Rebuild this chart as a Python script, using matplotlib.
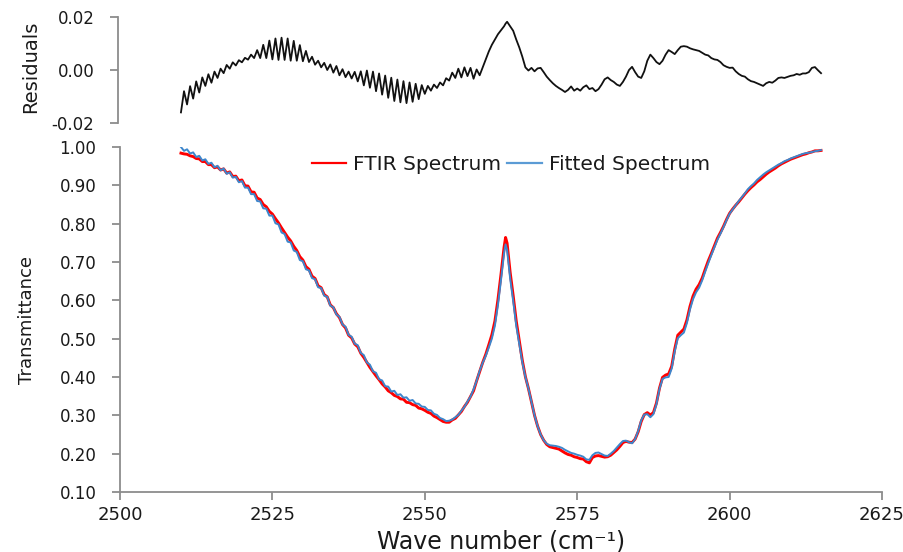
import matplotlib
matplotlib.use("Agg")
import matplotlib.pyplot as plt
from matplotlib.lines import Line2D

# ---------------- data ----------------
wavenumber = [
    2510.0, 2510.5, 2511.0, 2511.5, 2512.0, 2512.5, 2513.0, 2513.5, 2514.0, 2514.5,
    2515.0, 2515.5, 2516.0, 2516.5, 2517.0, 2517.5, 2518.0, 2518.5, 2519.0, 2519.5,
    2520.0, 2520.5, 2521.0, 2521.5, 2522.0, 2522.5, 2523.0, 2523.5, 2524.0, 2524.5,
    2525.0, 2525.5, 2526.0, 2526.5, 2527.0, 2527.5, 2528.0, 2528.5, 2529.0, 2529.5,
    2530.0, 2530.5, 2531.0, 2531.5, 2532.0, 2532.5, 2533.0, 2533.5, 2534.0, 2534.5,
    2535.0, 2535.5, 2536.0, 2536.5, 2537.0, 2537.5, 2538.0, 2538.5, 2539.0, 2539.5,
    2540.0, 2540.5, 2541.0, 2541.5, 2542.0, 2542.5, 2543.0, 2543.5, 2544.0, 2544.5,
    2545.0, 2545.5, 2546.0, 2546.5, 2547.0, 2547.5, 2548.0, 2548.5, 2549.0, 2549.5,
    2550.0, 2550.5, 2551.0, 2551.5, 2552.0,
    2552.5, 2553.0, 2553.5, 2554.0, 2554.5, 2555.0, 2555.5, 2556.0, 2556.5, 2557.0,
    2557.5, 2558.0, 2558.5, 2559.0, 2559.5, 2560.0, 2560.5, 2561.0, 2561.5, 2562.0,
    2562.5, 2563.0,
    2563.25,
    2563.5, 2564.0, 2564.5, 2565.0, 2565.5, 2566.0, 2566.5, 2567.0, 2567.5, 2568.0,
    2568.5, 2569.0, 2569.5, 2570.0, 2570.5, 2571.0, 2571.5, 2572.0, 2572.5, 2573.0,
    2573.5, 2574.0, 2574.5, 2575.0, 2575.5, 2576.0, 2576.5, 2577.0, 2577.5, 2578.0,
    2578.5, 2579.0, 2579.5, 2580.0, 2580.5, 2581.0, 2581.5, 2582.0, 2582.5, 2583.0,
    2583.5, 2584.0, 2584.5, 2585.0, 2585.5, 2586.0, 2586.5, 2587.0, 2587.5, 2588.0,
    2588.5, 2589.0, 2589.5, 2590.0, 2590.5, 2591.0, 2591.5, 2592.0, 2592.5, 2593.0,
    2593.5, 2594.0, 2594.5, 2595.0, 2595.5, 2596.0, 2596.5, 2597.0, 2597.5, 2598.0,
    2598.5, 2599.0, 2599.5, 2600.0, 2600.5, 2601.0, 2601.5, 2602.0, 2602.5, 2603.0,
    2603.5, 2604.0, 2604.5, 2605.0, 2605.5, 2606.0, 2606.5, 2607.0, 2607.5, 2608.0,
    2608.5, 2609.0, 2609.5, 2610.0, 2610.5, 2611.0, 2611.5, 2612.0, 2612.5, 2613.0,
    2613.5, 2614.0, 2614.5, 2615.0,
]

ftir_spectrum = [
    0.984, 0.982, 0.981, 0.977, 0.975, 0.970, 0.969, 0.962, 0.962, 0.954,
    0.954, 0.946, 0.948, 0.940, 0.943, 0.932, 0.935, 0.923, 0.924, 0.912,
    0.914, 0.899, 0.898, 0.883, 0.882, 0.867, 0.863, 0.850, 0.844, 0.832,
    0.825, 0.813, 0.802, 0.789, 0.777, 0.765, 0.755, 0.741, 0.730, 0.714,
    0.705, 0.688, 0.681, 0.663, 0.657, 0.638, 0.633, 0.615, 0.609, 0.588,
    0.581, 0.565, 0.555, 0.537, 0.528, 0.509, 0.502, 0.486, 0.479, 0.462,
    0.451, 0.438, 0.425, 0.414, 0.403, 0.393, 0.382, 0.374, 0.364, 0.359,
    0.352, 0.349, 0.343, 0.342, 0.334, 0.333, 0.328, 0.326, 0.319, 0.317,
    0.313, 0.308, 0.305, 0.298, 0.294,
    0.289, 0.284, 0.282, 0.282, 0.288, 0.292, 0.301, 0.310, 0.323, 0.334,
    0.349, 0.364, 0.390, 0.414, 0.438, 0.459, 0.484, 0.510, 0.546, 0.602,
    0.668, 0.738,
    0.764,
    0.749, 0.673, 0.612, 0.546, 0.494, 0.443, 0.401, 0.370, 0.335, 0.300,
    0.272, 0.250, 0.235, 0.224, 0.218, 0.216, 0.214, 0.212, 0.207, 0.202,
    0.198, 0.196, 0.192, 0.190, 0.187, 0.186, 0.179, 0.176, 0.190, 0.194,
    0.195, 0.193, 0.191, 0.192, 0.196, 0.203, 0.210, 0.219, 0.229, 0.232,
    0.230, 0.229, 0.238, 0.257, 0.284, 0.302, 0.307, 0.301, 0.307, 0.332,
    0.371, 0.399, 0.405, 0.408, 0.428, 0.473, 0.509, 0.517, 0.525, 0.549,
    0.584, 0.611, 0.629, 0.641, 0.658, 0.681, 0.703, 0.722, 0.742, 0.762,
    0.777, 0.793, 0.811, 0.827, 0.838, 0.848, 0.857, 0.867, 0.877, 0.886,
    0.894, 0.901, 0.909, 0.915, 0.922, 0.929, 0.935, 0.940, 0.945, 0.951,
    0.956, 0.960, 0.964, 0.968, 0.971, 0.974, 0.977, 0.980, 0.982, 0.985,
    0.987, 0.990, 0.990, 0.991,
]

fitted_spectrum = [
    1.000, 0.990, 0.994, 0.983, 0.986, 0.974, 0.977, 0.965, 0.968, 0.956,
    0.959, 0.947, 0.951, 0.939, 0.944, 0.930, 0.934, 0.920, 0.922, 0.908,
    0.911, 0.894, 0.894, 0.877, 0.877, 0.859, 0.858, 0.840, 0.839, 0.821,
    0.821, 0.801, 0.798, 0.777, 0.773, 0.753, 0.751, 0.730, 0.726, 0.705,
    0.702, 0.681, 0.678, 0.658, 0.655, 0.634, 0.632, 0.612, 0.609, 0.586,
    0.582, 0.563, 0.557, 0.537, 0.531, 0.510, 0.505, 0.487, 0.483, 0.463,
    0.457, 0.438, 0.432, 0.415, 0.411, 0.394, 0.391, 0.376, 0.375, 0.362,
    0.364, 0.353, 0.355, 0.346, 0.347, 0.338, 0.340, 0.331, 0.330, 0.323,
    0.322, 0.314, 0.313, 0.304, 0.301,
    0.293, 0.290, 0.285, 0.286, 0.289, 0.295, 0.301, 0.312, 0.322, 0.336,
    0.349, 0.368, 0.390, 0.416, 0.437, 0.455, 0.477, 0.500, 0.534, 0.588,
    0.653, 0.722,
    0.746,
    0.731, 0.657, 0.598, 0.534, 0.486, 0.438, 0.400, 0.370, 0.335, 0.300,
    0.272, 0.250, 0.235, 0.226, 0.222, 0.221, 0.220, 0.218, 0.215, 0.210,
    0.206, 0.202, 0.200, 0.197, 0.195, 0.192, 0.185, 0.184, 0.196, 0.202,
    0.203, 0.199, 0.195, 0.194, 0.200, 0.207, 0.216, 0.225, 0.233, 0.234,
    0.230, 0.227, 0.238, 0.259, 0.287, 0.302, 0.303, 0.295, 0.303, 0.329,
    0.369, 0.395, 0.399, 0.400, 0.422, 0.467, 0.501, 0.509, 0.516, 0.541,
    0.576, 0.603, 0.621, 0.633, 0.652, 0.675, 0.697, 0.718, 0.738, 0.758,
    0.774, 0.791, 0.809, 0.826, 0.837, 0.848, 0.859, 0.869, 0.879, 0.890,
    0.898, 0.905, 0.914, 0.921, 0.928, 0.934, 0.939, 0.944, 0.949, 0.954,
    0.958, 0.963, 0.966, 0.970, 0.973, 0.976, 0.979, 0.982, 0.984, 0.985,
    0.987, 0.989, 0.990, 0.992,
]

residuals = [
    -0.016, -0.008, -0.013, -0.0061, -0.0108, -0.0043, -0.0085, -0.0028, -0.006, -0.0016,
    -0.0048, -0.0006, -0.003, 0.0005, -0.0012, 0.0019, 0.0005, 0.0029, 0.0017, 0.0037,
    0.0029, 0.0046, 0.0039, 0.0058, 0.0045, 0.0075, 0.0045, 0.0095, 0.0045, 0.0111,
    0.004, 0.0119, 0.0038, 0.0122, 0.0038, 0.0119, 0.0035, 0.011, 0.0035, 0.0094,
    0.0033, 0.0072, 0.003, 0.005, 0.002, 0.0035, 0.001, 0.0027, 0.0, 0.0021,
    -0.001, 0.0015, -0.002, 0.0003, -0.0027, -0.0006, -0.0032, -0.0007, -0.0043, -0.0005,
    -0.0058, -0.0002, -0.0067, -0.0006, -0.008, -0.0013, -0.0093, -0.0021, -0.0105, -0.0029,
    -0.0117, -0.0036, -0.0122, -0.0042, -0.0125, -0.0047, -0.012, -0.0052, -0.011, -0.0057,
    -0.009, -0.006, -0.0078, -0.0055, -0.0068,
    -0.0047, -0.0058, -0.0031, -0.004, -0.001, -0.003, 0.0005, -0.0028, 0.001, -0.0023,
    0.0008, -0.0033, 0.0002, -0.002, 0.001, 0.004, 0.007, 0.0095, 0.0115, 0.0135,
    0.015, 0.0165,
    0.0175,
    0.0182, 0.0165, 0.0148, 0.0115, 0.0085, 0.005, 0.001, -0.0002, 0.0008, -0.0005,
    0.0006, 0.0008, -0.0008, -0.0025, -0.0038, -0.005, -0.006, -0.0068, -0.0075, -0.0083,
    -0.0075, -0.0062, -0.0078, -0.007, -0.0078, -0.0065, -0.0058, -0.0072, -0.0068, -0.008,
    -0.0072, -0.0055, -0.0035, -0.0028, -0.0038, -0.0045, -0.0055, -0.006, -0.0045, -0.0025,
    0.0, 0.0012, -0.0008, -0.0025, -0.003, -0.0005, 0.0035, 0.0058, 0.0045, 0.003,
    0.0022, 0.0035, 0.0058, 0.0075, 0.0068, 0.006, 0.0075, 0.0088, 0.009, 0.0088,
    0.0082, 0.0078, 0.0075, 0.0072, 0.0065, 0.0058, 0.0055, 0.0045, 0.004, 0.0038,
    0.003, 0.0018, 0.0012, 0.0008, 0.0009, -0.0005, -0.0015, -0.0022, -0.0025, -0.0035,
    -0.0042, -0.0045, -0.005, -0.0055, -0.006, -0.005, -0.0045, -0.0048, -0.004, -0.003,
    -0.0028, -0.003, -0.0026, -0.0022, -0.002, -0.0015, -0.0018, -0.0013, -0.0013, -0.0008,
    0.0008, 0.0011, -0.0001, -0.0012,
]

x_ticks = [2500, 2525, 2550, 2575, 2600, 2625]
t_ticks = [0.10, 0.20, 0.30, 0.40, 0.50, 0.60, 0.70, 0.80, 0.90, 1.00]
r_ticks = [-0.02, 0.00, 0.02]
series_names = ["FTIR Spectrum", "Fitted Spectrum"]

# ---------------- styling ----------------
plt.rcParams["font.family"] = ["DejaVu Sans"]
GREY = "#8c8c8c"
TXT = "#1a1a1a"
RED = "#ff0000"
BLUE = "#3d86cc"

n = min(len(wavenumber), len(ftir_spectrum), len(fitted_spectrum), len(residuals))
wn = wavenumber[:n]

W, H = 904, 552
fig = plt.figure(figsize=(W / 100, H / 100), dpi=100)

# bottom axes: x 120..882, y 147..492 (pixels)
ax = fig.add_axes([120 / W, 1 - 492 / H, (882 - 120) / W, (492 - 147) / H])
# top axes: y 17..123
axr = fig.add_axes([118 / W, 1 - 123 / H, (882 - 118) / W, (123 - 17) / H])

ax.plot(wn, ftir_spectrum[:n], color=RED, lw=2.1, zorder=2, solid_joinstyle="round")
ax.plot(wn, fitted_spectrum[:n], color=BLUE, lw=1.4, zorder=3, solid_joinstyle="round")

ax.set_xlim(2500, 2625)
ax.set_ylim(0.10, 1.00)
ax.set_xticks(x_ticks)
ax.set_xticklabels([str(v) for v in x_ticks])
ax.set_yticks(t_ticks)
ax.set_yticklabels([f"{v:.2f}" for v in t_ticks])
for s in ["top", "right"]:
    ax.spines[s].set_visible(False)
for s in ["left", "bottom"]:
    ax.spines[s].set_color(GREY)
    ax.spines[s].set_linewidth(1.3)
ax.tick_params(axis="both", direction="out", length=6, width=1.3, color=GREY, labelcolor=TXT)
ax.tick_params(axis="y", labelsize=12, pad=11)
ax.tick_params(axis="x", labelsize=13, pad=4)

handles = [Line2D([], [], color=RED, lw=1.6), Line2D([], [], color="#5b9bd5", lw=1.6)]
ax.legend(handles, series_names, ncol=2, frameon=False, loc="center",
          bbox_to_anchor=(0.513, 0.948), fontsize=14.5, handlelength=1.7,
          handletextpad=0.35, columnspacing=0.3, labelcolor=TXT)

# residuals panel
axr.plot(wn, residuals[:n], color="#111111", lw=1.3, solid_joinstyle="round")
axr.set_xlim(2500 - 2 * 125 / (882 - 120), 2625)
axr.set_ylim(-0.02, 0.02)
axr.set_yticks(r_ticks)
axr.set_yticklabels([f"{v:.2f}" for v in r_ticks])
axr.set_xticks([])
for s in ["top", "right", "bottom"]:
    axr.spines[s].set_visible(False)
axr.spines["left"].set_color(GREY)
axr.spines["left"].set_linewidth(1.3)
axr.tick_params(axis="y", direction="out", length=6, width=1.3, color=GREY,
                labelcolor=TXT, labelsize=12, pad=11)

# axis titles
fig.text(501 / W, 1 - 541 / H, "Wave number (cm\u207b\u00b9)", ha="center", va="center",
         fontsize=17, color=TXT)
fig.text(27 / W, 1 - 320 / H, "Transmittance", ha="center", va="center",
         rotation=90, fontsize=13, color=TXT)
fig.text(31 / W, 1 - 67 / H, "Residuals", ha="center", va="center",
         rotation=90, fontsize=14, color=TXT)

fig.savefig("out.png", dpi=100, facecolor="white")
